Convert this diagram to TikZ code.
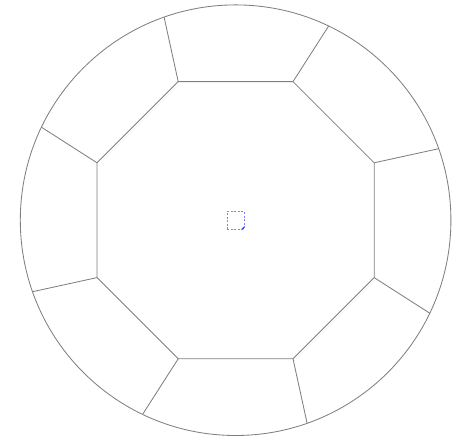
\documentclass[tikz,border=0pt]{standalone}
\usetikzlibrary{calc}
\begin{document}
\begin{tikzpicture}[x=1pt,y=1pt,
  edge/.style={draw=black!50,line width=0.85pt},
  marker/.style={draw=blue!50!white,line width=0.6pt,dash pattern=on 2pt off 1.5pt}]
\useasboundingbox (0,0) rectangle (454,442);
\coordinate (c) at (235.6,221.8);
\draw[edge] (c) circle (215.3);
\foreach \k in {0,...,7}{
  \coordinate (v\k) at ($(c)+({22.5+45*\k}:150)$);
  \coordinate (o\k) at ($(c)+({19.4+45*\k}:215.3)$);
}
\draw[edge] (v0)--(v1)--(v2)--(v3)--(v4)--(v5)--(v6)--(v7)--cycle;
\foreach \k in {0,...,7}{
  \draw[edge] (v\k)--(o\k);
}
\coordinate (m1) at ($(c)+(-8.3,-8.8)$);
\coordinate (m2) at ($(c)+(8.3,8.8)$);
\draw[marker] (m1) rectangle (m2);
\coordinate (t) at ($(c)+(8.3,-8.8)$);
\fill[blue!75] (t) -- ++(-2.5,0) -- ++(2.5,2.5) -- cycle;
\end{tikzpicture}
\end{document}
